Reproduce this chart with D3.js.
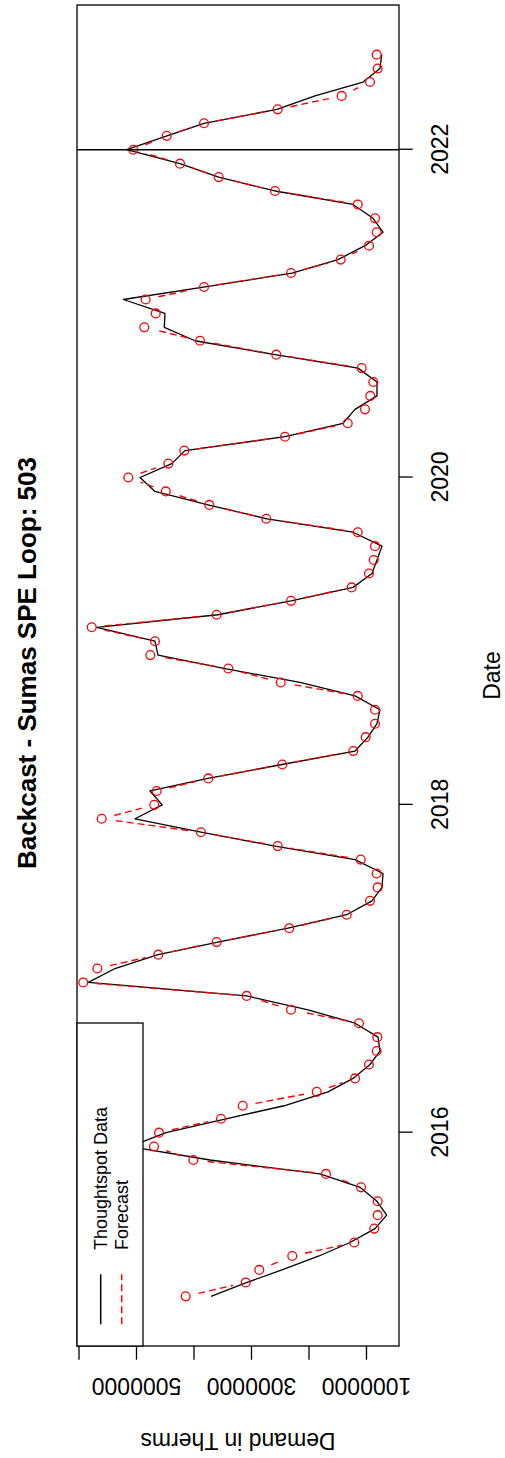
<!DOCTYPE html>
<html>
<head>
<meta charset="utf-8">
<script src="https://cdn.jsdelivr.net/npm/d3@7"></script>
<style>
  html, body { margin: 0; padding: 0; background: #ffffff; }
  svg { display: block; }
</style>
</head>
<body>
<script>
// ---------------- data ----------------
const firstMonth = [2015, 0];   // Jan 2015
const lastMonth  = [2022, 7];   // Aug 2022

// Thoughtspot Data (actual demand, therms), monthly
const actual = [
  3696000, 3070000, 2461000, 1817000, 1278000, 843000, 640000, 809000, 1104000, 1800000,
  3713000, 5104000, 4478000, 3435000, 2426000, 1661000, 1226000, 930000, 757000, 791000,
  1191000, 2009000, 3075000, 5830000, 5365000, 4617000, 3574000, 2357000, 1336000, 896000,
  722000, 704000, 1191000, 2583000, 3870000, 5017000, 4543000, 4757000, 3748000, 2461000,
  1191000, 965000, 809000, 757000, 1191000, 2148000, 3452000, 4617000, 4670000, 5683000,
  3574000, 2304000, 1226000, 896000, 809000, 722000, 1226000, 2722000, 3748000, 4670000,
  4930000, 4379000, 4148000, 2409000, 1400000, 1191000, 809000, 809000, 1139000, 2583000,
  3974000, 4508000, 4496000, 5221000, 3800000, 2287000, 1487000, 1017000, 704000, 878000,
  1226000, 2583000, 3562000, 4235000, 5162000, 4461000, 3817000, 2548000, 1887000, 1052000,
  757000, 727000
];

// Forecast (therms), monthly
const forecast = [
  4136000, 3092000, 2856000, 2282000, 1203000, 856000, 797000, 797000, 1087000, 1696000,
  4003000, 4687000, 4600000, 3522000, 3144000, 1857000, 1191000, 948000, 814000, 803000,
  1122000, 2304000, 3075000, 5917000, 5673000, 4612000, 3597000, 2334000, 1336000, 930000,
  797000, 814000, 1092000, 2536000, 3870000, 5597000, 4682000, 4640000, 3743000, 2456000,
  1221000, 1005000, 843000, 843000, 1144000, 2483000, 3395000, 4751000, 4670000, 5770000,
  3597000, 2304000, 1249000, 948000, 866000, 843000, 1144000, 2734000, 3725000, 4483000,
  5134000, 4438000, 4160000, 2409000, 1318000, 1017000, 925000, 873000, 1075000, 2560000,
  3887000, 4856000, 4657000, 4831000, 3817000, 2304000, 1440000, 948000, 814000, 843000,
  1144000, 2583000, 3562000, 4235000, 5047000, 4466000, 3817000, 2536000, 1423000, 930000,
  797000, 814000
];

const dateTickYears = [2016, 2018, 2020, 2022];
const dateTickLabels = ["2016", "2018", "2020", "2022"];
const demandTicks = [1000000, 2000000, 3000000, 4000000, 5000000, 6000000];
const demandTickLabels = ["1000000", "", "3000000", "", "5000000", ""];
const demandLimits = [426000, 6026000];
const cutoffYear = 2022;
const legendLabels = ["Thoughtspot Data", "Forecast"];
const titleText = "Backcast - Sumas SPE Loop: 503";
const xLabel = "Date";
const yLabel = "Demand in Therms";

// ---------------- layout (unrotated R frame) ----------------
const W = 1458, H = 505;
const plot = { x0: 112, x1: 1453, y0: 77, y1: 399 };
const FONT = "'Liberation Sans', Arial, Helvetica, sans-serif";
const RED = "#ff0000";

const months = d3.utcMonth.range(
  new Date(Date.UTC(firstMonth[0], firstMonth[1], 1)),
  d3.utcMonth.offset(new Date(Date.UTC(lastMonth[0], lastMonth[1], 1)), 1)
);

const t0 = +months[0], t1 = +months[months.length - 1];
const pad = (t1 - t0) * 0.04;
const x = d3.scaleUtc().domain([new Date(t0 - pad), new Date(t1 + pad)]).range([plot.x0, plot.x1]);
const y = d3.scaleLinear().domain(demandLimits).range([plot.y1, plot.y0]);

const svg = d3.select("body").append("svg")
  .attr("width", 505).attr("height", 1458)
  .attr("viewBox", "0 0 505 1458");
svg.append("rect").attr("width", 505).attr("height", 1458).attr("fill", "#fff");

// whole R plot drawn landscape, then rotated -90deg
const g = svg.append("g").attr("transform", `translate(0,${W}) rotate(-90)`);

const clipId = "plotclip";
g.append("clipPath").attr("id", clipId).append("rect")
  .attr("x", plot.x0).attr("y", plot.y0)
  .attr("width", plot.x1 - plot.x0).attr("height", plot.y1 - plot.y0);

const actualPts = months.map((d, i) => ({ d, v: actual[i] }));
const fcPts = months.map((d, i) => ({ d, v: forecast[i] }));

const pg = g.append("g").attr("clip-path", `url(#${clipId})`);

// black actual line
pg.append("path")
  .datum(actualPts)
  .attr("fill", "none").attr("stroke", "#000").attr("stroke-width", 1.3)
  .attr("stroke-linejoin", "round")
  .attr("d", d3.line().x(p => x(p.d)).y(p => y(p.v)));

// red forecast: type "b" (points + gapped dashed segments)
const GAP = 13;
const segs = [];
for (let i = 0; i < fcPts.length - 1; i++) {
  const ax = x(fcPts[i].d), ay = y(fcPts[i].v);
  const bx = x(fcPts[i + 1].d), by = y(fcPts[i + 1].v);
  const dd = Math.hypot(bx - ax, by - ay);
  if (dd > 2 * GAP) {
    const f = GAP / dd;
    segs.push({ i, f });
  }
}
pg.selectAll("line.fc").data(segs).join("line")
  .attr("class", "fc")
  .attr("x1", s => { const a = x(fcPts[s.i].d), b = x(fcPts[s.i + 1].d); return a + s.f * (b - a); })
  .attr("y1", s => { const a = y(fcPts[s.i].v), b = y(fcPts[s.i + 1].v); return a + s.f * (b - a); })
  .attr("x2", s => { const a = x(fcPts[s.i].d), b = x(fcPts[s.i + 1].d); return b - s.f * (b - a); })
  .attr("y2", s => { const a = y(fcPts[s.i].v), b = y(fcPts[s.i + 1].v); return b - s.f * (b - a); })
  .attr("stroke", RED).attr("stroke-width", 1.4).attr("stroke-dasharray", "7,4");

pg.selectAll("circle.fc").data(fcPts).join("circle")
  .attr("class", "fc")
  .attr("cx", p => x(p.d)).attr("cy", p => y(p.v)).attr("r", 4.4)
  .attr("fill", "none").attr("stroke", RED).attr("stroke-width", 1.3);

// cutoff line (abline v=2022)
const cut = new Date(Date.UTC(cutoffYear, 0, 1));
pg.append("line")
  .attr("x1", x(cut)).attr("x2", x(cut))
  .attr("y1", plot.y0).attr("y2", plot.y1)
  .attr("stroke", "#000").attr("stroke-width", 1.3);

// ---------------- axes ----------------
const dateTicks = dateTickYears.map(yr => new Date(Date.UTC(yr, 0, 1)));
const xAxis = d3.axisBottom(x).tickValues(dateTicks)
  .tickFormat((d, i) => dateTickLabels[i]).tickSize(13.7);
const xg = g.append("g").attr("transform", `translate(0,${plot.y1})`).call(xAxis);
xg.select(".domain").remove();
xg.selectAll(".tick line").attr("stroke", "#000").attr("stroke-width", 1.3);
xg.selectAll(".tick text")
  .attr("y", 49).attr("dy", "0")
  .attr("fill", "#000").style("font-family", FONT).style("font-size", "23px");

const yAxis = d3.axisLeft(y).tickValues(demandTicks)
  .tickFormat((d, i) => demandTickLabels[i]).tickSize(13.7);
const yg = g.append("g").attr("transform", `translate(${plot.x0},0)`).call(yAxis);
yg.select(".domain").remove();
yg.selectAll(".tick line").attr("stroke", "#000").attr("stroke-width", 1.3);
yg.selectAll(".tick text")
  .attr("x", 0).attr("dy", "0").attr("y", 0)
  .attr("text-anchor", "middle")
  .attr("transform", `translate(${80 - plot.x0},0) rotate(-90)`)
  .attr("fill", "#000").style("font-family", FONT).style("font-size", "23px");

// plot box
g.append("rect")
  .attr("x", plot.x0).attr("y", plot.y0)
  .attr("width", plot.x1 - plot.x0).attr("height", plot.y1 - plot.y0)
  .attr("fill", "none").attr("stroke", "#000").attr("stroke-width", 1.3);

// titles
const cx = (plot.x0 + plot.x1) / 2;
g.append("text").attr("x", 795).attr("y", 36).attr("text-anchor", "middle")
  .style("font-family", FONT).style("font-size", "26px").style("font-weight", "bold")
  .text(titleText);
g.append("text").attr("x", cx).attr("y", 500).attr("text-anchor", "middle")
  .style("font-family", FONT).style("font-size", "23px")
  .text(xLabel);
g.append("text")
  .attr("transform", `translate(25,${(plot.y0 + plot.y1) / 2}) rotate(-90)`)
  .attr("text-anchor", "middle")
  .style("font-family", FONT).style("font-size", "23px")
  .text(yLabel);

// ---------------- legend ----------------
const lg = g.append("g");
lg.append("rect").attr("x", plot.x0).attr("y", plot.y0)
  .attr("width", 435 - plot.x0).attr("height", 143 - plot.y0)
  .attr("fill", "#fff").attr("stroke", "#000").attr("stroke-width", 1.3);
const rowsY = [100.7, 121.7];
const legendStyles = [
  { stroke: "#000", dash: null },
  { stroke: RED, dash: "7,4" }
];
legendLabels.forEach((lab, i) => {
  lg.append("line").attr("x1", 133.7).attr("x2", 183.7)
    .attr("y1", rowsY[i]).attr("y2", rowsY[i])
    .attr("stroke", legendStyles[i].stroke).attr("stroke-width", 1.5)
    .attr("stroke-dasharray", legendStyles[i].dash);
  lg.append("text").attr("x", 208).attr("y", rowsY[i] + 6.5)
    .style("font-family", FONT).style("font-size", "18px")
    .text(lab);
});
</script>
</body>
</html>
